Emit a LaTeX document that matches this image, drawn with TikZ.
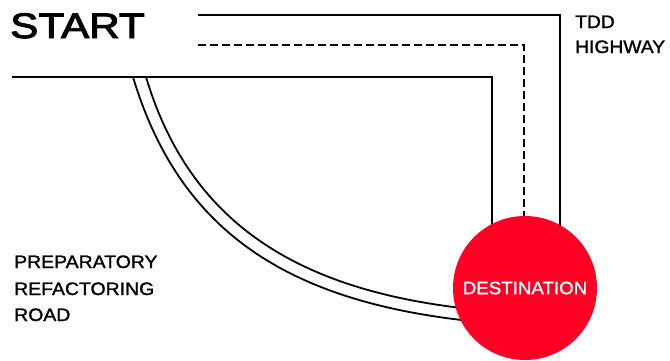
\documentclass[tikz,border=0pt]{standalone}
\usepackage{fontspec}
\usepackage{graphicx}
\setmainfont{Liberation Sans}
\newfontfamily\bigmed[FakeBold=2.6]{Liberation Sans}
\newfontfamily\lblmed[FakeBold=1.4]{Liberation Sans}
\definecolor{destred}{RGB}{255,0,36}
\begin{document}
\begin{tikzpicture}[x=1pt,y=-1pt,
  road/.style={line width=1.8pt},
  laneline/.style={line width=1.8pt, dash pattern=on 7.5pt off 4.5pt},
  lbl/.style={inner sep=0pt, font=\lblmed\fontsize{18}{25}\selectfont, align=left},
  dest/.style={circle, fill=destred, minimum size=144pt, inner sep=0pt,
    text=white, font=\lblmed\fontsize{18}{22}\selectfont}]
\useasboundingbox (0,0) rectangle (670,360);
% coordinates
\coordinate (tA) at (198,15);
\coordinate (tB) at (560,15);
\coordinate (tC) at (560,260);
\coordinate (dA) at (198,45);
\coordinate (dB) at (524,45);
\coordinate (dC) at (524,260);
\coordinate (lA) at (12,77);
\coordinate (lB) at (492,77);
\coordinate (lC) at (492,260);
\coordinate (iA) at (146,77);
\coordinate (iB) at (480,310);
\coordinate (oA) at (133,77);
\coordinate (oB) at (480,322);
% roads
\draw[road] (tA) -- (tB) -- (tC);
\draw[laneline] (dA) -- (dB) -- (dC);
\draw[road] (lA) -- (lB) -- (lC);
\draw[road] (iA) .. controls (191,227) and (303,293) .. (iB);
\draw[road] (oA) .. controls (181,237) and (295,304) .. (oB);
% destination
\node[dest] (dst) at (525,288) {\scalebox{1.04}[1]{DESTINATION}};
% labels
\node[inner sep=0pt, anchor=base west, font=\bigmed\fontsize{35.5}{40}\selectfont] (start) at (10,38) {\scalebox{1.19}[1]{START}};
\node[lbl, anchor=base west] (tdd) at (575,28) {\scalebox{1.07}[1]{TDD}};
\node[lbl, anchor=base west] (hwy) at (575,53) {\scalebox{1.07}[1]{HIGHWAY}};
\node[lbl, anchor=base west] (prep1) at (14,268) {\scalebox{1.08}[1]{PREPARATORY}};
\node[lbl, anchor=base west] (prep2) at (14,295) {\scalebox{1.08}[1]{REFACTORING}};
\node[lbl, anchor=base west] (prep3) at (14,321) {\scalebox{1.08}[1]{ROAD}};
\end{tikzpicture}
\end{document}
